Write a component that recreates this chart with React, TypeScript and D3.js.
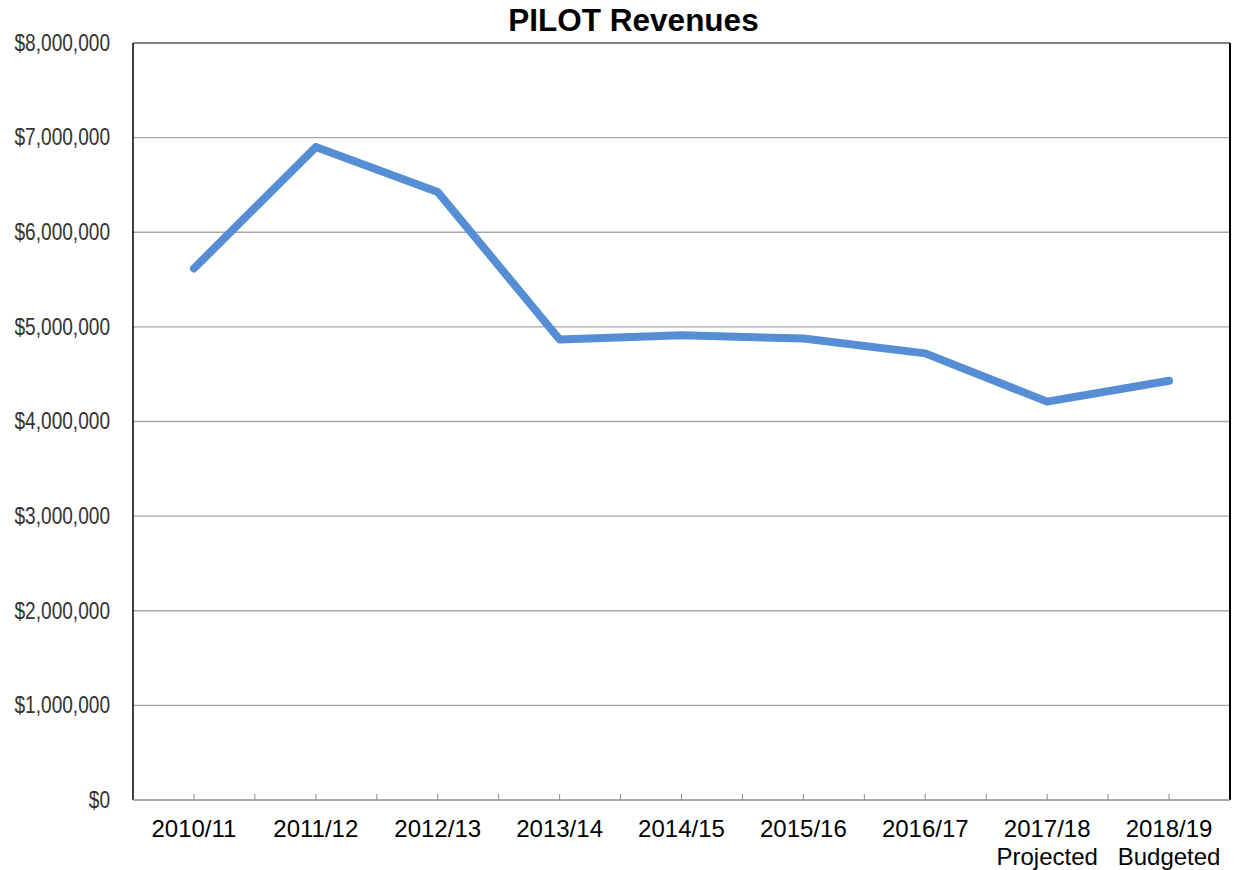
import React, { useEffect, useRef } from "react";
import { select, scaleBand, scaleLinear, line, axisLeft, format } from "d3";

const years = [
  "2010/11",
  "2011/12",
  "2012/13",
  "2013/14",
  "2014/15",
  "2015/16",
  "2016/17",
  "2017/18",
  "2018/19",
];
const subLabels = ["", "", "", "", "", "", "", "Projected", "Budgeted"];
const revenues = [
  5617000, 6900000, 6426000, 4867000, 4912000, 4877000, 4720000, 4210000,
  4430000,
];
const yTicks = [0, 1000000, 2000000, 3000000, 4000000, 5000000, 6000000, 7000000, 8000000];

const W = 1235;
const H = 870;
const margin = { left: 133, right: 5, top: 43, bottom: 70 };
const narrow = 0.83; // squeeze Liberation Sans to look like Arial Narrow

export default function App() {
  const svgRef = useRef<SVGSVGElement>(null);

  useEffect(() => {
    const svg = select(svgRef.current);
    svg.selectAll("*").remove();

    const x = scaleBand<string>()
      .domain(years)
      .range([margin.left, W - margin.right]);
    const y = scaleLinear()
      .domain([0, 8000000])
      .range([H - margin.bottom, margin.top]);

    const plotW = W - margin.right - margin.left;
    const bottom = H - margin.bottom;

    // gridlines
    svg
      .append("g")
      .selectAll("line")
      .data(yTicks.slice(1, -1))
      .join("line")
      .attr("x1", margin.left)
      .attr("x2", W - margin.right)
      .attr("y1", (d) => y(d))
      .attr("y2", (d) => y(d))
      .attr("stroke", "#a6a6a6")
      .attr("stroke-width", 1.3);

    // top and right border
    svg
      .append("line")
      .attr("x1", margin.left)
      .attr("x2", W - margin.right)
      .attr("y1", y(8000000))
      .attr("y2", y(8000000))
      .attr("stroke", "#595959")
      .attr("stroke-width", 1.5);
    svg
      .append("line")
      .attr("x1", W - margin.right)
      .attr("x2", W - margin.right)
      .attr("y1", y(8000000))
      .attr("y2", bottom)
      .attr("stroke", "#000")
      .attr("stroke-width", 2);

    // y axis
    const yAxis = axisLeft(y)
      .tickValues(yTicks)
      .tickSize(0)
      .tickPadding(23)
      .tickFormat((d) => "$" + format(",")(d as number));
    const gy = svg
      .append("g")
      .attr("transform", `translate(${margin.left},0)`)
      .call(yAxis);
    gy.select(".domain").remove();
    gy.selectAll("text")
      .attr("x", -23 / narrow)
      .attr("transform", `scale(${narrow},1)`)
      .attr("font-family", "Arial, 'Liberation Sans', sans-serif")
      .attr("font-size", 23)
      .attr("fill", "#333");
    svg
      .append("line")
      .attr("x1", margin.left)
      .attr("x2", margin.left)
      .attr("y1", y(8000000))
      .attr("y2", bottom)
      .attr("stroke", "#000")
      .attr("stroke-width", 1.5);

    // x axis line and ticks
    svg
      .append("line")
      .attr("x1", margin.left)
      .attr("x2", W - margin.right)
      .attr("y1", bottom)
      .attr("y2", bottom)
      .attr("stroke", "#8c8c8c")
      .attr("stroke-width", 1.5);
    const tickXs: number[] = [];
    years.forEach((c) => {
      tickXs.push(x(c)!);
      tickXs.push(x(c)! + x.bandwidth() / 2);
    });
    svg
      .append("g")
      .selectAll("line")
      .data(tickXs.slice(1))
      .join("line")
      .attr("x1", (d) => d)
      .attr("x2", (d) => d)
      .attr("y1", bottom)
      .attr("y2", bottom - 6)
      .attr("stroke", "#8c8c8c")
      .attr("stroke-width", 1);

    // x labels
    const gx = svg
      .append("g")
      .attr("font-family", "Arial, 'Liberation Sans', sans-serif")
      .attr("font-size", 24)
      .attr("fill", "#000");
    gx.selectAll("text.yr")
      .data(years)
      .join("text")
      .attr("class", "yr")
      .attr("x", (d) => x(d)! + x.bandwidth() / 2)
      .attr("y", bottom + 37)
      .attr("text-anchor", "middle")
      .text((d) => d);
    gx.selectAll("text.sub")
      .data(years)
      .join("text")
      .attr("class", "sub")
      .attr("x", (d) => x(d)! + x.bandwidth() / 2)
      .attr("y", bottom + 65)
      .attr("text-anchor", "middle")
      .text((d, i) => subLabels[i]);

    // line
    const path = line<number>()
      .x((d, i) => x(years[i])! + x.bandwidth() / 2)
      .y((d) => y(d));
    svg
      .append("path")
      .datum(revenues)
      .attr("d", path)
      .attr("fill", "none")
      .attr("stroke", "#558ed5")
      .attr("stroke-width", 8)
      .attr("stroke-linecap", "round")
      .attr("stroke-linejoin", "round");

    // title
    svg
      .append("text")
      .attr("x", margin.left + plotW / 2 - 48)
      .attr("y", 31)
      .attr("text-anchor", "middle")
      .attr("font-family", "Arial, 'Liberation Sans', sans-serif")
      .attr("font-weight", "bold")
      .attr("font-size", 31.5)
      .text("PILOT Revenues");
  }, []);

  return (
    <svg
      ref={svgRef}
      width={W}
      height={H}
      style={{ position: "absolute", left: 0, top: 0, background: "#fff" }}
    />
  );
}
